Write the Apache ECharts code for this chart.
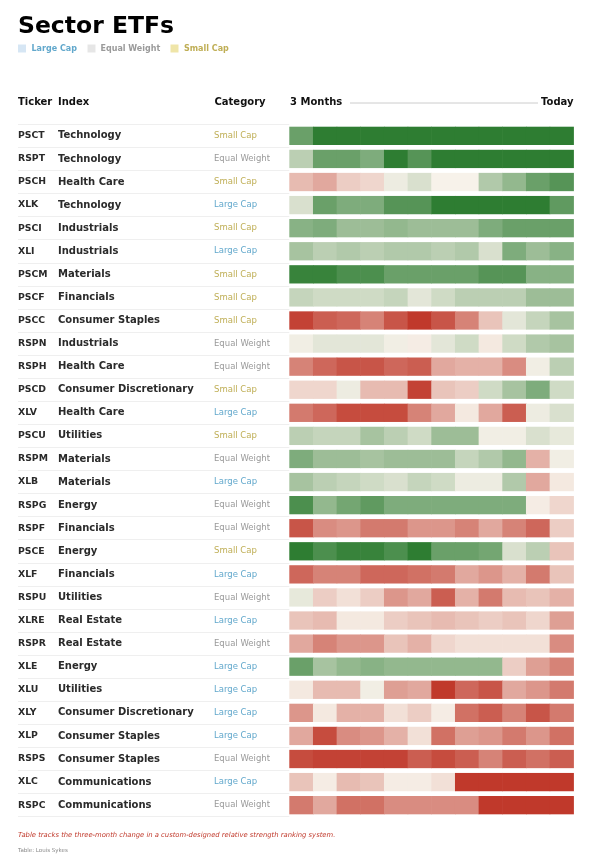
<!DOCTYPE html>
<html>
<head>
<meta charset="utf-8">
<script src="https://cdn.jsdelivr.net/npm/echarts@6/dist/echarts.min.js"></script>
<style>html,body{margin:0;padding:0;background:#fff;}#c{width:591px;height:860px;}</style>
</head>
<body>
<div id="c"></div>
<script>
const tickers = ['PSCT','RSPT','PSCH','XLK','PSCI','XLI','PSCM','PSCF','PSCC','RSPN','RSPH','PSCD','XLV','PSCU','RSPM','XLB','RSPG','RSPF','PSCE','XLF','RSPU','XLRE','RSPR','XLE','XLU','XLY','XLP','RSPS','XLC','RSPC'];
const indexes = ['Technology','Technology','Health Care','Technology','Industrials','Industrials','Materials','Financials','Consumer Staples','Industrials','Health Care','Consumer Discretionary','Health Care','Utilities','Materials','Materials','Energy','Financials','Energy','Financials','Utilities','Real Estate','Real Estate','Energy','Utilities','Consumer Discretionary','Consumer Staples','Consumer Staples','Communications','Communications'];
const categories = ['Small Cap','Equal Weight','Small Cap','Large Cap','Small Cap','Large Cap','Small Cap','Small Cap','Small Cap','Equal Weight','Equal Weight','Small Cap','Large Cap','Small Cap','Equal Weight','Large Cap','Equal Weight','Equal Weight','Small Cap','Large Cap','Equal Weight','Large Cap','Equal Weight','Large Cap','Large Cap','Large Cap','Large Cap','Equal Weight','Large Cap','Equal Weight'];
const periods = ['P1','P2','P3','P4','P5','P6','P7','P8','P9','P10','P11','P12'];
// relative strength score per ticker per period (-10 weakest .. +10 strongest)
const strength = [
  [7,10,10,10,10,10,10,10,10,10,10,10],
  [3,7,7,6,10,8,10,10,10,10,10,10],
  [-3,-4,-2,-1.5,0.5,1.5,0,0,3.5,5,7,8],
  [1.5,7,6,6,8,8,10,10,10,10,10,7.5],
  [5.5,6,4.5,4.5,5,4.5,4.5,4.5,6,7,7,7],
  [4,3,3.5,3,3.5,3.5,3,3.5,1.5,6,4.5,5.5],
  [9.5,9.5,8.5,8.5,7,7,7,7,8,8,5.5,5.5],
  [2.5,2,2,2,2.5,1,2,3,3,3,4.5,4.5],
  [-9.5,-8,-7.5,-6,-8.5,-10,-8.5,-6,-2.5,1,2.5,4],
  [0.3,1,1,1,0.3,-0.3,1,2,-0.5,2,3.5,4],
  [-6,-7.5,-8.5,-8.5,-7.5,-8,-4,-3.5,-3.5,-5.5,0.3,3],
  [-1.5,-1.5,0.5,-3,-3,-9.5,-2.5,-2,2,4,6,2],
  [-6.5,-7.5,-9,-9,-9,-6,-4,-0.5,-4,-8,0.5,1.5],
  [3,2.5,2.5,4,3,2,4.5,4.5,0.3,0.3,1.5,0.8],
  [6,4.5,4.5,4,4.5,4.5,4.5,2.5,3.5,5,-3.5,0.3],
  [4,3,2.5,2,1.5,2.5,2,0.5,0.5,3.5,-4,-0.5],
  [8.5,5,6.5,7.5,6,6,6,6,6,6,-0.3,-1.5],
  [-8.5,-5.5,-5,-6.5,-6.5,-5,-5,-6,-4,-6,-7.5,-2],
  [10,8.5,9.5,9.5,8.5,10,7,7,6.5,1.5,3,-2.5],
  [-7.5,-6,-6,-7.5,-7.5,-7,-6.5,-4,-5,-3.5,-6.5,-2.5],
  [0.8,-2,-1,-2,-5,-4,-8,-3.5,-6.5,-3,-2.5,-3.5],
  [-2.5,-3,-0.5,-0.5,-2,-2.5,-3,-2.5,-2,-2.5,-1.5,-4.5],
  [-4,-6,-5,-5,-2.5,-3.5,-1.5,-1,-1,-1,-1,-5.5],
  [7,4,5,5.5,5,5,5,5,5,-2,-4.5,-6],
  [-0.5,-3,-3,0.3,-4.5,-4,-10,-7.5,-8.5,-4,-5,-6.5],
  [-5,-0.5,-3.5,-3.5,-1,-2,-0.3,-7,-8,-6,-8.5,-6.5],
  [-4,-9,-5.5,-5,-3.5,-1,-7,-4.5,-5,-6.5,-5,-7],
  [-9,-9.5,-9.5,-9.5,-9.5,-8,-9,-8,-6,-8,-7,-8],
  [-2.5,-0.3,-3,-2.5,-0.3,-0.3,-1,-10,-10,-10,-10,-10],
  [-6.5,-4,-7,-7,-5.5,-5.5,-5.5,-5.5,-10,-10,-10,-10]
];
const catColors = {'Large Cap':'#62a8cc','Equal Weight':'#9a9a9a','Small Cap':'#bfae55'};
const legendSwatch = {'Large Cap':'#d6e6f4','Equal Weight':'#e6e6e6','Small Cap':'#efe5a8'};

const cells = [];
strength.forEach((row, r) => row.forEach((v, c) => cells.push([c, r, v])));

const FONT = 'DejaVu Sans';
const chart = echarts.init(document.getElementById('c'));
const gridTop = 124.3, gridH = 692.4;
const labelAxis = (data, margin, extra) => ({
  type: 'category', data: data, inverse: true, gridIndex: 0, position: 'left', offset: 0,
  axisLine: {show: false}, axisTick: {show: false}, splitLine: {show: false},
  axisLabel: Object.assign({show: true, align: 'left', margin: margin, fontFamily: FONT}, extra)
});
chart.setOption({
  animation: false,
  backgroundColor: '#fff',
  title: {
    text: 'Sector ETFs', left: 13, top: 10,
    textStyle: {fontFamily: FONT, fontSize: 23.5, fontWeight: 'bold', color: '#000'}
  },
  grid: [
    {left: 289.3, width: 284, top: gridTop, height: gridH, containLabel: false, outerBoundsMode: 'none'},
    {left: 18, width: 271.3, top: gridTop, height: gridH, containLabel: false, outerBoundsMode: 'none'}
  ],
  xAxis: [
    {type: 'category', data: periods, gridIndex: 0, show: false},
    {type: 'value', gridIndex: 1, show: false}
  ],
  yAxis: [
    labelAxis(tickers, 271.3, {fontSize: 9.3, fontWeight: 'bold', color: '#2a2a2a'}),
    labelAxis(indexes, 231.3, {fontSize: 10, fontWeight: 'bold', color: '#2a2a2a'}),
    labelAxis(categories, 75.3, {fontSize: 8.5, color: (v, i) => catColors[categories[i]]}),
    {type: 'category', data: tickers, inverse: true, gridIndex: 1, position: 'left',
     axisLine: {show: false}, axisTick: {show: false}, axisLabel: {show: false},
     splitLine: {show: true, lineStyle: {color: '#efefef', width: 1}}}
  ],
  visualMap: {
    show: false, type: 'continuous', min: -10, max: 10, dimension: 2, seriesIndex: 0,
    inRange: {color: ['#c0392b', '#f7f2ea', '#2e7d32']}
  },
  series: [{
    type: 'custom',
    xAxisIndex: 0, yAxisIndex: 0,
    data: cells,
    encode: {x: 0, y: 1},
    renderItem: (params, api) => {
      const p = api.coord([api.value(0), api.value(1)]);
      const s = api.size([1, 1]);
      return {
        type: 'rect',
        shape: {x: p[0] - s[0] / 2, y: p[1] - s[1] * 0.396, width: s[0] + 0.6, height: s[1] * 0.793},
        style: {fill: api.visual('color')}
      };
    }
  }],
  graphic: [
    {type: 'rect', shape: {x: 18, y: 44.5, width: 8, height: 8}, style: {fill: legendSwatch['Large Cap']}},
    {type: 'text', x: 31.5, y: 48.5, style: {text: 'Large Cap', font: 'bold 8px "DejaVu Sans"', fill: catColors['Large Cap'], verticalAlign: 'middle'}},
    {type: 'rect', shape: {x: 87.5, y: 44.5, width: 8, height: 8}, style: {fill: legendSwatch['Equal Weight']}},
    {type: 'text', x: 100.5, y: 48.5, style: {text: 'Equal Weight', font: 'bold 8px "DejaVu Sans"', fill: catColors['Equal Weight'], verticalAlign: 'middle'}},
    {type: 'rect', shape: {x: 170.5, y: 44.5, width: 8, height: 8}, style: {fill: legendSwatch['Small Cap']}},
    {type: 'text', x: 184, y: 48.5, style: {text: 'Small Cap', font: 'bold 8px "DejaVu Sans"', fill: catColors['Small Cap'], verticalAlign: 'middle'}},
    {type: 'text', x: 18, y: 102.5, style: {text: 'Ticker', font: 'bold 10px "DejaVu Sans"', fill: '#111', verticalAlign: 'middle'}},
    {type: 'text', x: 58, y: 102.5, style: {text: 'Index', font: 'bold 10px "DejaVu Sans"', fill: '#111', verticalAlign: 'middle'}},
    {type: 'text', x: 214.5, y: 102.5, style: {text: 'Category', font: 'bold 10px "DejaVu Sans"', fill: '#111', verticalAlign: 'middle'}},
    {type: 'text', x: 290, y: 102.5, style: {text: '3 Months', font: 'bold 10px "DejaVu Sans"', fill: '#111', verticalAlign: 'middle'}},
    {type: 'line', shape: {x1: 350, y1: 103, x2: 538, y2: 103}, style: {stroke: '#cccccc', lineWidth: 1}},
    {type: 'text', x: 573.5, y: 102.5, style: {text: 'Today', font: 'bold 10px "DejaVu Sans"', fill: '#111', align: 'right', verticalAlign: 'middle'}},
    {type: 'text', x: 18, y: 835, style: {text: 'Table tracks the three-month change in a custom-designed relative strength ranking system.', font: 'italic 6.8px "DejaVu Sans"', fill: '#c0392b', verticalAlign: 'middle'}},
    {type: 'text', x: 18, y: 851, style: {text: 'Table: Louis Sykes', font: '5.5px "DejaVu Sans"', fill: '#888', verticalAlign: 'middle'}}
  ]
});
</script>
</body>
</html>
